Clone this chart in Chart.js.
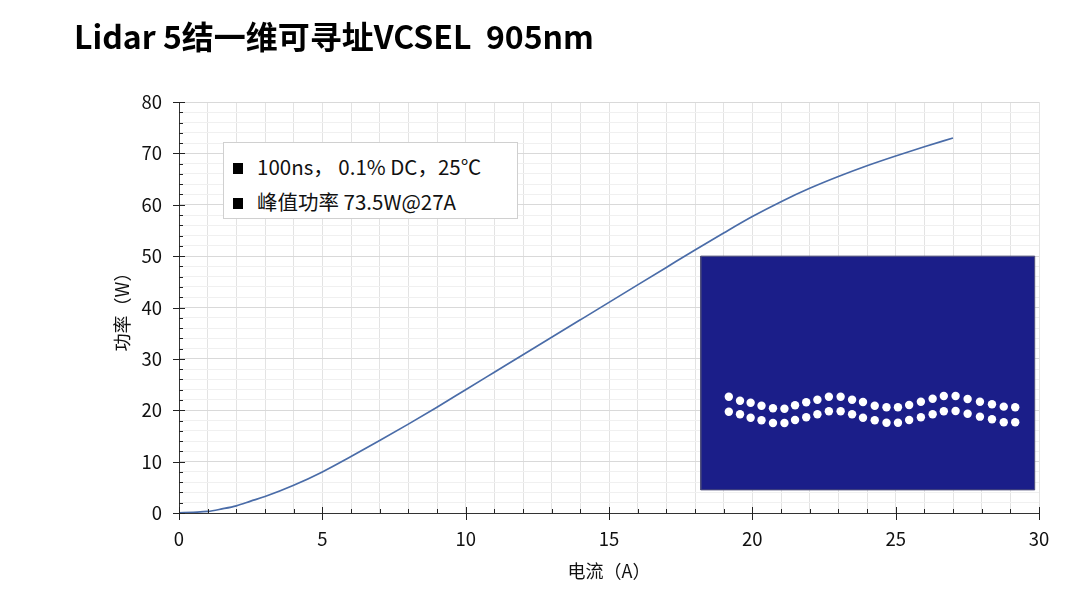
<!DOCTYPE html>
<html>
<head>
<meta charset="utf-8">
<script src="https://cdn.jsdelivr.net/npm/chart.js@4.4.1/dist/chart.umd.min.js"></script>
<style>
  html, body { margin: 0; padding: 0; background: #ffffff; }
  #wrap { position: relative; width: 1080px; height: 607px; overflow: hidden; }
  #chart { position: absolute; left: 0; top: 0; }
  #title { position: absolute; left: 74px; top: 19px; font: bold 32px "Noto Sans CJK SC", sans-serif; line-height: 32px; color: #000; white-space: pre; }
  #note { position: absolute; left: 223px; top: 142px; width: 295px; height: 77px; box-sizing: border-box;
          border: 1px solid #d0d0d0; background: #fff; font: 20.5px "Noto Sans CJK SC", sans-serif; color: #111; }
  #note div { position: absolute; left: 9px; white-space: pre; line-height: 21px; }
  #note span.sq { display: inline-block; width: 10px; height: 11px; background: #000; margin-right: 14px; vertical-align: 1px; }
</style>
</head>
<body>
<div id="wrap">
  <canvas id="chart" width="1080" height="607"></canvas>
  <div id="title">Lidar 5结一维可寻址VCSEL  905nm</div>
  <div id="note">
    <div style="top:13px"><span class="sq"></span>100ns， 0.1% DC，25℃</div>
    <div style="top:48px"><span class="sq"></span>峰值功率 73.5W@27A</div>
  </div>
</div>
<script>
// ---- data ----
const currentA = [0, 0.5, 1, 1.5, 2, 2.5, 3, 4, 5, 6, 7, 8, 9, 10, 11, 12, 13, 14, 15, 16, 17, 18, 19, 20, 21, 22, 23, 24, 25, 26, 27];
const powerW   = [0.05, 0.15, 0.3, 0.8, 1.4, 2.3, 3.2, 5.4, 8.0, 11.0, 14.1, 17.3, 20.6, 24.0, 27.4, 30.8, 34.2, 37.6, 41.0, 44.4, 47.8, 51.2, 54.5, 57.7, 60.6, 63.2, 65.5, 67.6, 69.5, 71.3, 73.0];

const xTickLabels = [0, 5, 10, 15, 20, 25, 30];
const yTickLabels = [0, 10, 20, 30, 40, 50, 60, 70, 80];

// inset (emitter layout picture) placed in data coordinates
const insetCornerX = [18.2, 29.85, 29.85, 18.2, 18.2];
const insetCornerY = [4.5, 4.5, 50.0, 50.0, 4.5];
const emitterX = [19.18, 19.57, 19.94, 20.32, 20.72, 21.12, 21.49, 21.88, 22.27, 22.67, 23.08, 23.48, 23.86, 24.27, 24.68, 25.08, 25.47, 25.88, 26.29, 26.68, 27.09, 27.51, 27.94, 28.36, 28.77, 29.17];
const emitterTopY = [22.64, 21.86, 21.47, 20.89, 20.38, 20.30, 20.96, 21.55, 22.05, 22.64, 22.64, 22.05, 21.61, 20.89, 20.57, 20.57, 21.02, 21.66, 22.25, 22.77, 22.77, 22.19, 21.66, 21.16, 20.70, 20.57];
const emitterBotY = [19.72, 19.21, 18.55, 18.04, 17.52, 17.52, 18.10, 18.63, 19.21, 19.80, 19.80, 19.21, 18.55, 18.04, 17.58, 17.58, 18.10, 18.63, 19.21, 19.80, 19.85, 19.33, 18.75, 18.24, 17.66, 17.66];

const pts = (xs, ys) => xs.map((x, i) => ({ x: x, y: ys[i] }));

const FONT = '"Noto Sans CJK SC", sans-serif';

const tickMarks = {
  id: 'tickMarks',
  afterDraw(chart) {
    const { ctx, chartArea: a } = chart;
    const xs = chart.scales.x, ys = chart.scales.y;
    ctx.save();
    ctx.strokeStyle = '#222';
    ctx.lineWidth = 1;
    ctx.beginPath();
    xs.ticks.forEach(t => {
      const px = Math.round(xs.getPixelForValue(t.value)) + 0.5;
      const major = xTickLabels.includes(t.value);
      ctx.moveTo(px, a.bottom + (major ? 7 : 0));
      ctx.lineTo(px, a.bottom - (major ? 6 : 4));
    });
    ys.ticks.forEach(t => {
      const py = Math.round(ys.getPixelForValue(t.value)) + 0.5;
      const major = yTickLabels.includes(t.value);
      ctx.moveTo(a.left - (major ? 6 : 0), py);
      ctx.lineTo(a.left + (major ? 6 : 4), py);
    });
    ctx.stroke();
    ctx.restore();
  }
};

new Chart(document.getElementById('chart'), {
  type: 'line',
  data: {
    datasets: [
      {
        label: 'L-I',
        data: pts(currentA, powerW),
        borderColor: '#4a6ca8',
        borderWidth: 1.7,
        pointRadius: 0,
        cubicInterpolationMode: 'monotone',
        fill: false,
        order: 1
      },
      {
        label: 'inset',
        data: pts(insetCornerX, insetCornerY),
        borderColor: '#50507a',
        borderWidth: 1,
        backgroundColor: '#1b1e89',
        fill: 'shape',
        tension: 0,
        pointRadius: 0,
        order: 4
      },
      {
        label: 'emitters top',
        type: 'scatter',
        data: pts(emitterX, emitterTopY),
        pointRadius: 4.2,
        pointBackgroundColor: '#ffffff',
        pointBorderWidth: 0,
        order: 2
      },
      {
        label: 'emitters bottom',
        type: 'scatter',
        data: pts(emitterX, emitterBotY),
        pointRadius: 4.2,
        pointBackgroundColor: '#ffffff',
        pointBorderWidth: 0,
        order: 2
      }
    ]
  },
  options: {
    responsive: false,
    animation: false,
    layout: { padding: { left: 0, right: 41, top: 102, bottom: 0 } },
    plugins: { legend: { display: false }, tooltip: { enabled: false }, title: { display: false } },
    scales: {
      x: {
        type: 'linear', min: 0, max: 30,
        afterFit(s) { s.height = 94; },
        ticks: {
          stepSize: 1, autoSkip: false, maxRotation: 0, padding: 15,
          color: '#111', font: { family: FONT, size: 18.5 },
          callback: v => xTickLabels.includes(v) ? String(v) : ''
        },
        grid: { color: '#e3e3e3', lineWidth: 1, drawTicks: false },
        border: { color: '#333', width: 1 },
        title: { display: true, text: '电流（A）', color: '#111', font: { family: FONT, size: 18 }, padding: { top: 0, bottom: 25 } }
      },
      y: {
        type: 'linear', min: 0, max: 80,
        afterFit(s) { s.width = 179; },
        ticks: {
          stepSize: 2, autoSkip: false, padding: 17,
          color: '#111', font: { family: FONT, size: 18.5 },
          callback: v => yTickLabels.includes(v) ? String(v) : ''
        },
        grid: {
          color: c => (c.tick && yTickLabels.includes(c.tick.value)) ? '#d9d9d9' : '#f0f0f0',
          lineWidth: 1, drawTicks: false
        },
        border: { color: '#333', width: 1 },
        title: { display: true, text: '功率（W）', color: '#111', font: { family: FONT, size: 18 }, padding: { top: 111, bottom: 0 } }
      }
    }
  },
  plugins: [tickMarks]
});
</script>
</body>
</html>
